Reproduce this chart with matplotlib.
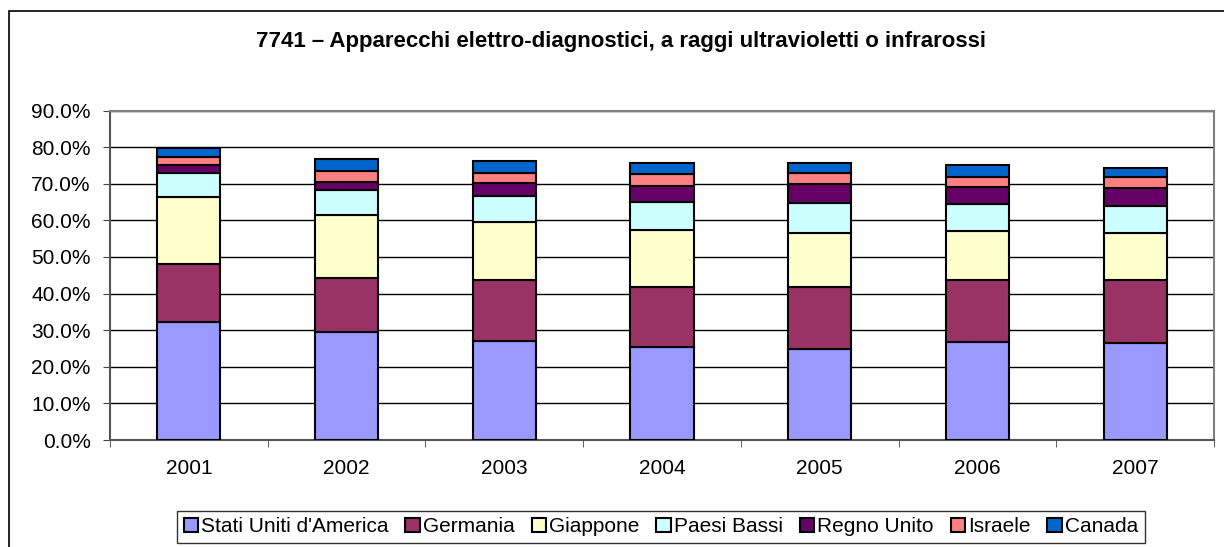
import matplotlib
matplotlib.use("Agg")
import matplotlib.pyplot as plt
from matplotlib.patches import Rectangle
from matplotlib.ticker import FuncFormatter, MultipleLocator
import numpy as np

plt.rcParams['font.family'] = ['Liberation Sans', 'DejaVu Sans']

years = ['2001', '2002', '2003', '2004', '2005', '2006', '2007']
series_names = ["Stati Uniti d'America", 'Germania', 'Giappone', 'Paesi Bassi',
                'Regno Unito', 'Israele', 'Canada']
stati_uniti = [32.3, 29.4, 27.0, 25.5, 25.0, 26.9, 26.6]
germania = [15.7, 14.9, 16.7, 16.4, 16.9, 16.8, 17.1]
giappone = [18.5, 17.2, 15.9, 15.5, 14.6, 13.4, 12.8]
paesi_bassi = [6.4, 6.8, 7.1, 7.5, 8.2, 7.4, 7.5]
regno_unito = [2.2, 2.3, 3.6, 4.6, 5.3, 4.7, 4.8]
israele = [2.3, 2.9, 2.7, 3.1, 3.0, 2.7, 3.1]
canada = [2.3, 3.2, 3.3, 3.2, 2.8, 3.1, 2.3]
colors = ['#9999FF', '#993366', '#FFFFCC', '#CCFFFF', '#660066', '#FF8080', '#0066CC']

data = [stati_uniti, germania, giappone, paesi_bassi, regno_unito, israele, canada]

fig = plt.figure(figsize=(12.24, 5.47), dpi=100)
W, H = 1224, 547
ax = fig.add_axes([110 / W, 1 - 440 / H, (1214 - 110) / W, (440 - 110.6) / H])

x = np.arange(len(years))
bottom = np.zeros(len(years))
handles = []
for name, vals, c in zip(series_names, data, colors):
    v = np.array(vals) / 100.0
    b = ax.bar(x, v, 0.4, bottom=bottom, color=c, edgecolor='black',
               linewidth=1.5, label=name, zorder=3)
    handles.append(b)
    bottom += v

ax.set_xlim(-0.5, len(years) - 0.5)
ax.set_ylim(0, 0.9)
ax.yaxis.set_major_locator(MultipleLocator(0.1))
ax.yaxis.set_major_formatter(FuncFormatter(lambda v, p: f"{v * 100:.1f}%"))
ax.set_xticks(x)
ax.set_xticklabels(years)
ax.set_xticks(np.arange(len(years) + 1) - 0.5, minor=True)
ax.tick_params(axis='x', which='major', length=0, pad=14, labelsize=15)
ax.tick_params(axis='x', which='minor', length=5, direction='out', color='#444444')
ax.tick_params(axis='y', length=5, direction='out', labelsize=15, pad=9, color='#444444')
ax.grid(axis='y', color='black', linewidth=1, zorder=0)
for s in ['top', 'right']:
    ax.spines[s].set_color('#808080')
    ax.spines[s].set_linewidth(1.5)
for s in ['left', 'bottom']:
    ax.spines[s].set_color('#555555')
    ax.spines[s].set_linewidth(1.5)

fig.text(621 / W, 1 - 42 / H, '7741 – Apparecchi elettro-diagnostici, a raggi ultravioletti o infrarossi',
         ha='center', va='center', fontsize=16, fontweight='bold')

leg = fig.legend(handles=handles, labels=series_names, loc='upper center',
                 bbox_to_anchor=(661 / W, 1 - 511 / H), ncol=7, frameon=True,
                 fontsize=15, handlelength=0.7, handleheight=0.7,
                 handletextpad=0.15, columnspacing=0.8, borderpad=0.3,
                 fancybox=False, edgecolor='black', borderaxespad=0)
leg.get_frame().set_linewidth(1.0)
for h in leg.legend_handles:
    h.set_linewidth(1.5)

fig.patches.append(Rectangle((9 / W, -0.1), 1.2, 1 - 11 / H + 0.1,
                             transform=fig.transFigure, fill=False,
                             edgecolor='black', linewidth=1.2))

fig.savefig('out.png', dpi=100)
